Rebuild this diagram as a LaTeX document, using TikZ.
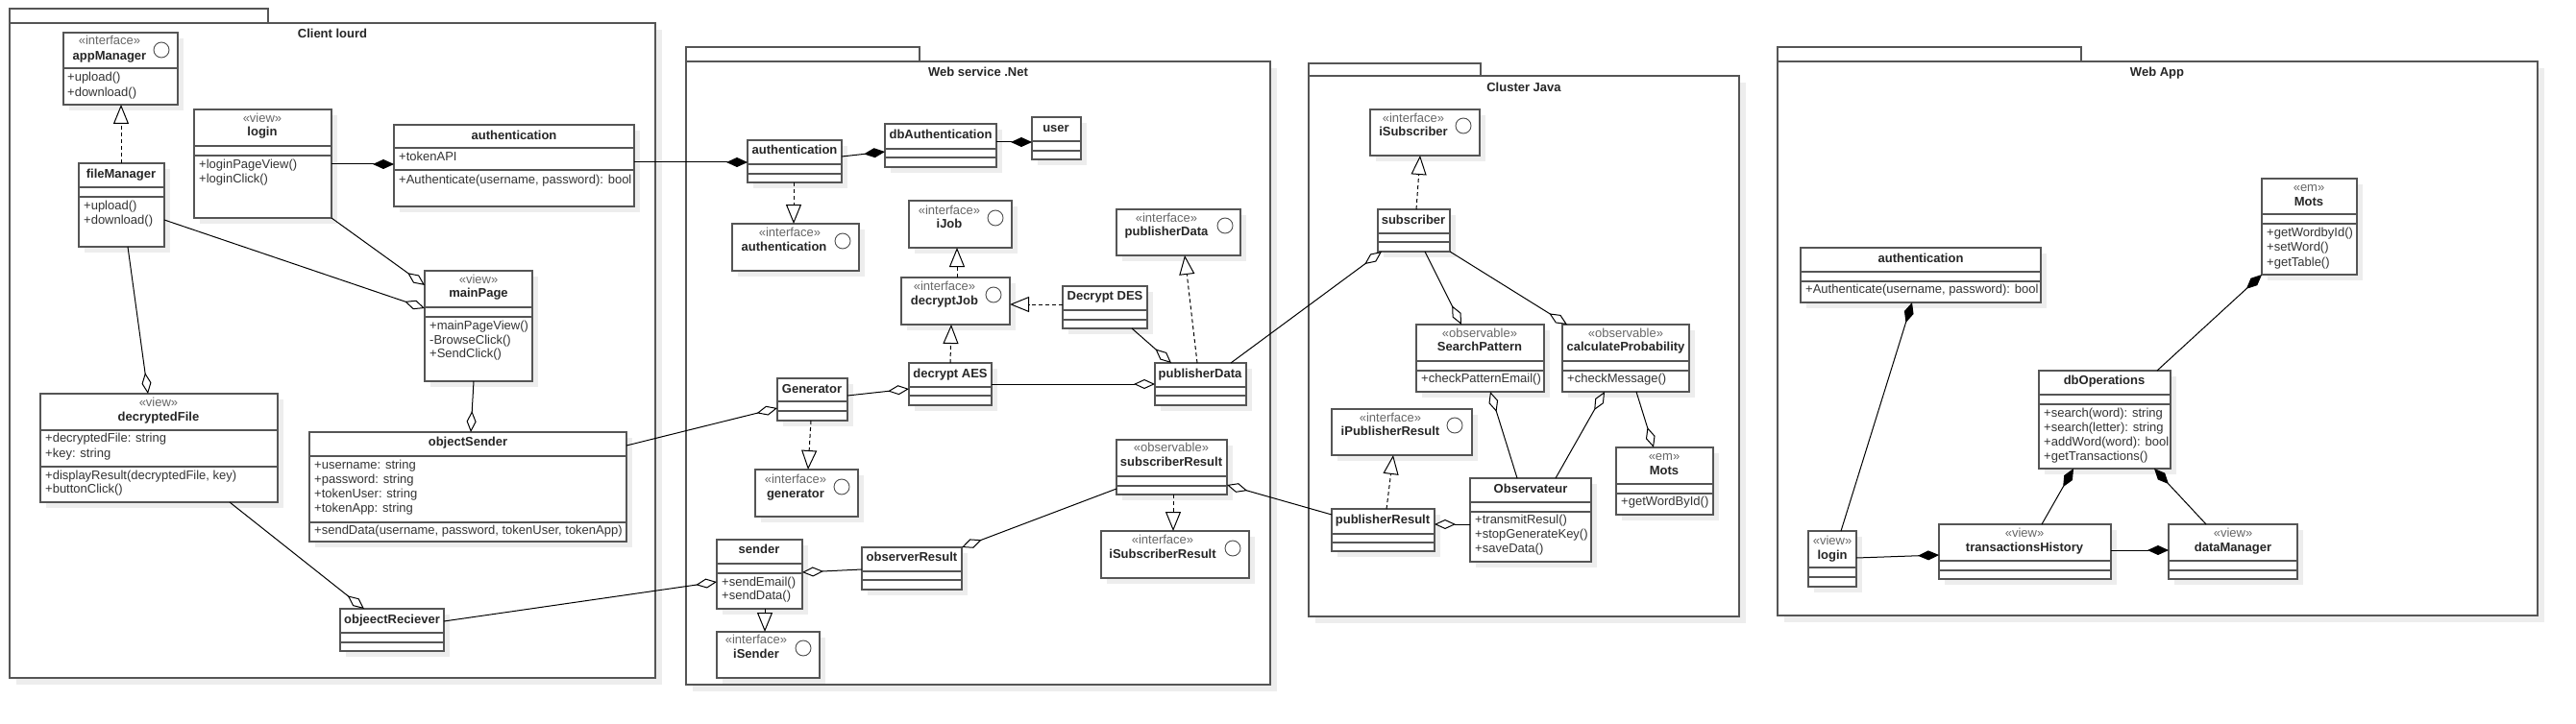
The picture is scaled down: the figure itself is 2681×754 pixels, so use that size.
\documentclass[tikz,border=0pt]{standalone}
\usepackage{fontspec}
\setmainfont{Liberation Sans}
\usetikzlibrary{arrows.meta}
\newcounter{tcnt}
\definecolor{shadowc}{HTML}{EDEDED}
\definecolor{boxc}{HTML}{555555}
\tikzset{
  umlbox/.style={draw=boxc, line width=1.4pt, fill=white, anchor=north west, inner sep=0pt, outer sep=0pt},
  pkgst/.style={draw=boxc, line width=1.4pt, fill=white, anchor=north west, inner sep=0pt, outer sep=0pt},
  pkgline/.style={draw=boxc, line width=1.4pt},
  divline/.style={draw=boxc, line width=1.4pt},
  shadowfill/.style={fill=shadowc},
  namest/.style={font=\fontsize{13}{15}\selectfont\bfseries, text=black!85, anchor=mid, inner sep=0pt},
  sterst/.style={font=\fontsize{13}{15}\selectfont, text=black!60, anchor=mid, inner sep=0pt},
  leftst/.style={font=\fontsize{13}{15}\selectfont, text=black!80, anchor=mid west, inner sep=0pt},
  circst/.style={draw=black!70, line width=0.9pt},
  conn/.style={line width=1pt, draw=black},
  comp/.style={conn, -{Diamond[length=22pt,width=10pt]}},
  agg/.style={conn, -{Diamond[open,length=22pt,width=10pt,fill=white]}},
  aggstart/.style={conn, {Diamond[open,length=22pt,width=10pt,fill=white]}-},
  real/.style={conn, dash pattern=on 4pt off 3pt, -{Triangle[open,length=20pt,width=16pt,fill=white]}},
}
\newcommand\ubox[5]{%
  \fill[shadowfill] (#2+6,#3+6) rectangle (#4+6,#5+6);
  \pgfmathsetmacro\bw{#4-#2}\pgfmathsetmacro\bh{#5-#3}%
  \node[umlbox, minimum width=\bw pt, minimum height=\bh pt] (#1) at (#2,#3) {};
}
\newcommand\upkg[7]{%
  \fill[shadowfill] (#2+7,#5+7) rectangle (#6+7,#7+7);
  \draw[pkgline, fill=white] (#2,#3) rectangle (#4,#5);
  \pgfmathsetmacro\bw{#6-#2}\pgfmathsetmacro\bh{#7-#5}%
  \node[pkgst, minimum width=\bw pt, minimum height=\bh pt] (#1) at (#2,#5) {};
}
\newcommand\udiv[2]{\draw[divline] (#1.west |- 0,#2) -- (#1.east |- 0,#2);}
\newcommand\uname[3]{\stepcounter{tcnt}\node[namest] (t\arabic{tcnt}) at (#1,#2) {#3};}
\newcommand\uster[3]{\stepcounter{tcnt}\node[sterst] (t\arabic{tcnt}) at (#1,#2) {#3};}
\newcommand\uleft[3]{\stepcounter{tcnt}\node[leftst] (t\arabic{tcnt}) at (#1,#2) {#3};}
\newcommand\ucirc[2]{\draw[circst] (#1,#2) circle[radius=8pt];}
\begin{document}
\begin{tikzpicture}[x=1pt,y=-1pt]
\useasboundingbox (0,0) rectangle (2681,754);
\fill[white] (0,0) rectangle (2681,754);

% ================= packages =================
\upkg{pkgClient}{10}{9}{279}{24}{682}{706}
\uname{346}{37}{Client lourd}
\upkg{pkgWS}{714}{49}{957}{64}{1322}{713}
\uname{1018}{77}{Web service .Net}
\upkg{pkgJava}{1362}{66}{1541}{79}{1810}{642}
\uname{1586}{93}{Cluster Java}
\upkg{pkgWeb}{1850}{49}{2166}{64}{2641}{641}
\uname{2245}{77}{Web App}

% ================= Client lourd =================
\ubox{appMgr}{66}{34}{185}{109}\udiv{appMgr}{71}
\uster{114}{44}{«interface»}\uname{114}{60}{appManager}\ucirc{168}{52}
\uleft{70}{82}{+upload()}\uleft{70}{98}{+download()}

\ubox{fileMgr}{82}{170}{171}{257}\udiv{fileMgr}{195}\udiv{fileMgr}{205}
\uname{126}{183}{fileManager}
\uleft{87}{216}{+upload()}\uleft{87}{231}{+download()}

\ubox{loginC}{202}{114}{345}{227}\udiv{loginC}{152}\udiv{loginC}{162}
\uster{273}{125}{«view»}\uname{273}{139}{login}
\uleft{207}{173}{+loginPageView()}\uleft{207}{188}{+loginClick()}

\ubox{authC}{410}{130}{660}{215}\udiv{authC}{154}\udiv{authC}{177}
\uname{535}{143}{authentication}
\uleft{415}{165}{+tokenAPI}
\uleft{415}{189}{+Authenticate(username, password): bool}

\ubox{mainPage}{442}{282}{554}{397}\udiv{mainPage}{320}\udiv{mainPage}{330}
\uster{498}{293}{«view»}\uname{498}{307}{mainPage}
\uleft{447}{341}{+mainPageView()}\uleft{447}{356}{-BrowseClick()}\uleft{447}{370}{+SendClick()}

\ubox{decFile}{42}{410}{289}{523}\udiv{decFile}{448}\udiv{decFile}{486}
\uster{165}{421}{«view»}\uname{165}{436}{decryptedFile}
\uleft{47}{458}{+decryptedFile: string}\uleft{47}{474}{+key: string}
\uleft{47}{497}{+displayResult(decryptedFile, key)}\uleft{47}{511}{+buttonClick()}

\ubox{objSender}{322}{450}{652}{564}\udiv{objSender}{475}\udiv{objSender}{544}
\uname{487}{462}{objectSender}
\uleft{327}{486}{+username: string}\uleft{327}{501}{+password: string}
\uleft{327}{516}{+tokenUser: string}\uleft{327}{531}{+tokenApp: string}
\uleft{327}{554}{+sendData(username, password, tokenUser, tokenApp)}

\ubox{objRec}{354}{634}{462}{678}\udiv{objRec}{659}\udiv{objRec}{669}
\uname{408}{647}{objeectReciever}

% ================= Web service .Net =================
\ubox{wsAuth}{778}{146}{876}{190}\udiv{wsAuth}{171}\udiv{wsAuth}{181}
\uname{827}{158}{authentication}
\ubox{dbAuth}{921}{129}{1037}{174}\udiv{dbAuth}{155}\udiv{dbAuth}{164}
\uname{979}{142}{dbAuthentication}
\ubox{user}{1074}{122}{1125}{166}\udiv{user}{147}\udiv{user}{157}
\uname{1099}{135}{user}
\ubox{iAuth}{762}{233}{894}{282}
\uster{822}{244}{«interface»}\uname{816}{259}{authentication}\ucirc{877}{251}
\ubox{iJob}{946}{209}{1053}{258}
\uster{988}{221}{«interface»}\uname{988}{235}{iJob}\ucirc{1036}{227}
\ubox{decJob}{938}{289}{1051}{338}
\uster{983}{300}{«interface»}\uname{983}{315}{decryptJob}\ucirc{1034}{307}
\ubox{des}{1106}{298}{1194}{342}\udiv{des}{323}\udiv{des}{333}
\uname{1150}{310}{Decrypt DES}
\ubox{iPubData}{1162}{218}{1291}{266}
\uster{1214}{229}{«interface»}\uname{1214}{243}{publisherData}\ucirc{1275}{235}
\ubox{aes}{946}{378}{1032}{422}\udiv{aes}{403}\udiv{aes}{412}
\uname{989}{391}{decrypt AES}
\ubox{pubData}{1202}{378}{1297}{422}\udiv{pubData}{403}\udiv{pubData}{412}
\uname{1249}{391}{publisherData}
\ubox{gen}{809}{394}{882}{438}\udiv{gen}{418}\udiv{gen}{428}
\uname{845}{407}{Generator}
\ubox{iGen}{786}{489}{893}{538}
\uster{828}{501}{«interface»}\uname{828}{516}{generator}\ucirc{876}{507}
\ubox{subRes}{1162}{458}{1277}{515}\udiv{subRes}{496}\udiv{subRes}{506}
\uster{1219}{468}{«observable»}\uname{1219}{483}{subscriberResult}
\ubox{iSubRes}{1146}{553}{1300}{602}
\uster{1210}{564}{«interface»}\uname{1210}{579}{iSubscriberResult}\ucirc{1283}{571}
\ubox{obsRes}{897}{570}{1001}{614}\udiv{obsRes}{595}\udiv{obsRes}{604}
\uname{949}{582}{observerResult}
\ubox{sender}{746}{562}{835}{634}\udiv{sender}{587}\udiv{sender}{597}
\uname{790}{574}{sender}
\uleft{751}{608}{+sendEmail()}\uleft{751}{622}{+sendData()}
\ubox{iSender}{746}{658}{853}{706}
\uster{787}{668}{«interface»}\uname{787}{683}{iSender}\ucirc{836}{675}

% ================= Cluster Java =================
\ubox{iSub}{1426}{114}{1540}{162}
\uster{1471}{125}{«interface»}\uname{1471}{139}{iSubscriber}\ucirc{1523}{131}
\ubox{subscriber}{1434}{218}{1509}{262}\udiv{subscriber}{243}\udiv{subscriber}{252}
\uname{1471}{231}{subscriber}
\ubox{searchP}{1474}{338}{1607}{408}\udiv{searchP}{376}\udiv{searchP}{386}
\uster{1540}{349}{«observable»}\uname{1540}{363}{SearchPattern}
\uleft{1479}{396}{+checkPatternEmail()}
\ubox{calcP}{1626}{338}{1758}{408}\udiv{calcP}{376}\udiv{calcP}{386}
\uster{1692}{349}{«observable»}\uname{1692}{363}{calculateProbability}
\uleft{1631}{396}{+checkMessage()}
\ubox{iPubRes}{1386}{426}{1532}{474}
\uster{1447}{437}{«interface»}\uname{1447}{451}{iPublisherResult}\ucirc{1514}{443}
\ubox{pubRes}{1386}{530}{1493}{574}\udiv{pubRes}{556}\udiv{pubRes}{565}
\uname{1439}{543}{publisherResult}
\ubox{observ}{1530}{498}{1656}{585}\udiv{observ}{523}\udiv{observ}{533}
\uname{1593}{511}{Observateur}
\uleft{1535}{543}{+transmitResul()}\uleft{1535}{558}{+stopGenerateKey()}\uleft{1535}{573}{+saveData()}
\ubox{motsC}{1682}{466}{1783}{536}\udiv{motsC}{504}\udiv{motsC}{514}
\uster{1732}{477}{«em»}\uname{1732}{492}{Mots}
\uleft{1687}{524}{+getWordById()}

% ================= Web App =================
\ubox{authW}{1874}{258}{2124}{315}\udiv{authW}{283}\udiv{authW}{293}
\uname{1999}{271}{authentication}
\uleft{1879}{303}{+Authenticate(username, password): bool}
\ubox{motsW}{2354}{186}{2453}{286}\udiv{motsW}{223}\udiv{motsW}{233}
\uster{2403}{197}{«em»}\uname{2403}{212}{Mots}
\uleft{2359}{244}{+getWordbyId()}\uleft{2359}{259}{+setWord()}\uleft{2359}{275}{+getTable()}
\ubox{dbOps}{2122}{386}{2259}{488}\udiv{dbOps}{411}\udiv{dbOps}{421}
\uname{2190}{398}{dbOperations}
\uleft{2127}{432}{+search(word): string}\uleft{2127}{447}{+search(letter): string}
\uleft{2127}{462}{+addWord(word): bool}\uleft{2127}{477}{+getTransactions()}
\ubox{loginW}{1882}{553}{1932}{611}\udiv{loginW}{591}\udiv{loginW}{601}
\uster{1907}{565}{«view»}\uname{1907}{580}{login}
\ubox{tH}{2018}{546}{2197}{603}\udiv{tH}{584}\udiv{tH}{594}
\uster{2107}{557}{«view»}\uname{2107}{572}{transactionsHistory}
\ubox{dM}{2257}{546}{2391}{603}\udiv{dM}{584}\udiv{dM}{594}
\uster{2324}{557}{«view»}\uname{2324}{572}{dataManager}

% ================= connectors =================
% Client lourd
\draw[real] (fileMgr.north -| 126,0) -- (appMgr.south -| 126,0);
\draw[comp] (loginC.east |- 0,171) -- (authC.west |- 0,171);
\draw[agg] (loginC.south east) -- (mainPage.west |- 0,297);
\draw[agg] (fileMgr.east |- 0,229) -- (mainPage.west |- 0,321);
\draw[agg] (fileMgr.south -| 133,0) -- (decFile.north -| 154,0);
\draw[agg] (mainPage.south -| 493,0) -- (objSender.north -| 490,0);
\draw[agg] (decFile.south -| 239,0) -- (objRec.north -| 379,0);
% across packages
\draw[comp] (authC.east |- 0,169) -- (wsAuth.west |- 0,169);
\draw[agg] (objSender.east |- 0,464) -- (gen.west |- 0,425);
\draw[agg] (objRec.east |- 0,647) -- (sender.west |- 0,606);
\draw[agg] (pubData.north -| 1281,0) -- (subscriber.south -| 1438,0);
\draw[aggstart] (subRes.east |- 0,505) -- (pubRes.west |- 0,536);
% Web service
\draw[comp] (wsAuth.east |- 0,163) -- (dbAuth.west |- 0,158);
\draw[comp] (dbAuth.east |- 0,148) -- (user.west |- 0,148);
\draw[real] (wsAuth.south -| 826,0) -- (iAuth.north -| 826,0);
\draw[real] (decJob.north -| 996,0) -- (iJob.south -| 996,0);
\draw[real] (des.west |- 0,317) -- (decJob.east |- 0,317);
\draw[real] (aes.north -| 989,0) -- (decJob.south -| 990,0);
\draw[real] (pubData.north -| 1246,0) -- (iPubData.south -| 1233,0);
\draw[agg] (des.south -| 1178,0) -- (pubData.north -| 1219,0);
\draw[agg] (aes.east |- 0,400) -- (pubData.west |- 0,400);
\draw[agg] (gen.east |- 0,412) -- (aes.west |- 0,405);
\draw[real] (gen.south -| 844,0) -- (iGen.north -| 841,0);
\draw[real] (subRes.south -| 1221,0) -- (iSubRes.north -| 1221,0);
\draw[agg] (subRes.west |- 0,509) -- (obsRes.north east);
\draw[agg] (obsRes.west |- 0,593) -- (sender.east |- 0,596);
\draw[real] (sender.south -| 796,0) -- (iSender.north -| 796,0);
% Cluster Java
\draw[real] (subscriber.north -| 1474,0) -- (iSub.south -| 1478,0);
\draw[agg] (subscriber.south -| 1483,0) -- (searchP.north -| 1521,0);
\draw[agg] (subscriber.south east) -- (calcP.north -| 1631,0);
\draw[real] (pubRes.north -| 1443,0) -- (iPubRes.south -| 1450,0);
\draw[agg] (observ.west |- 0,546) -- (pubRes.east |- 0,546);
\draw[agg] (observ.north -| 1579,0) -- (searchP.south -| 1551,0);
\draw[agg] (observ.north -| 1619,0) -- (calcP.south -| 1670,0);
\draw[agg] (calcP.south -| 1703,0) -- (motsC.north -| 1721,0);
% Web App
\draw[comp] (dbOps.north -| 2245,0) -- (motsW.south west);
\draw[comp] (loginW.north -| 1916,0) -- (authW.south -| 1990,0);
\draw[comp] (loginW.east |- 0,581) -- (tH.west |- 0,578);
\draw[comp] (tH.east |- 0,573) -- (dM.west |- 0,573);
\draw[comp] (tH.north -| 2125,0) -- (dbOps.south -| 2158,0);
\draw[comp] (dM.north -| 2296,0) -- (dbOps.south -| 2242,0);
\end{tikzpicture}
\end{document}
